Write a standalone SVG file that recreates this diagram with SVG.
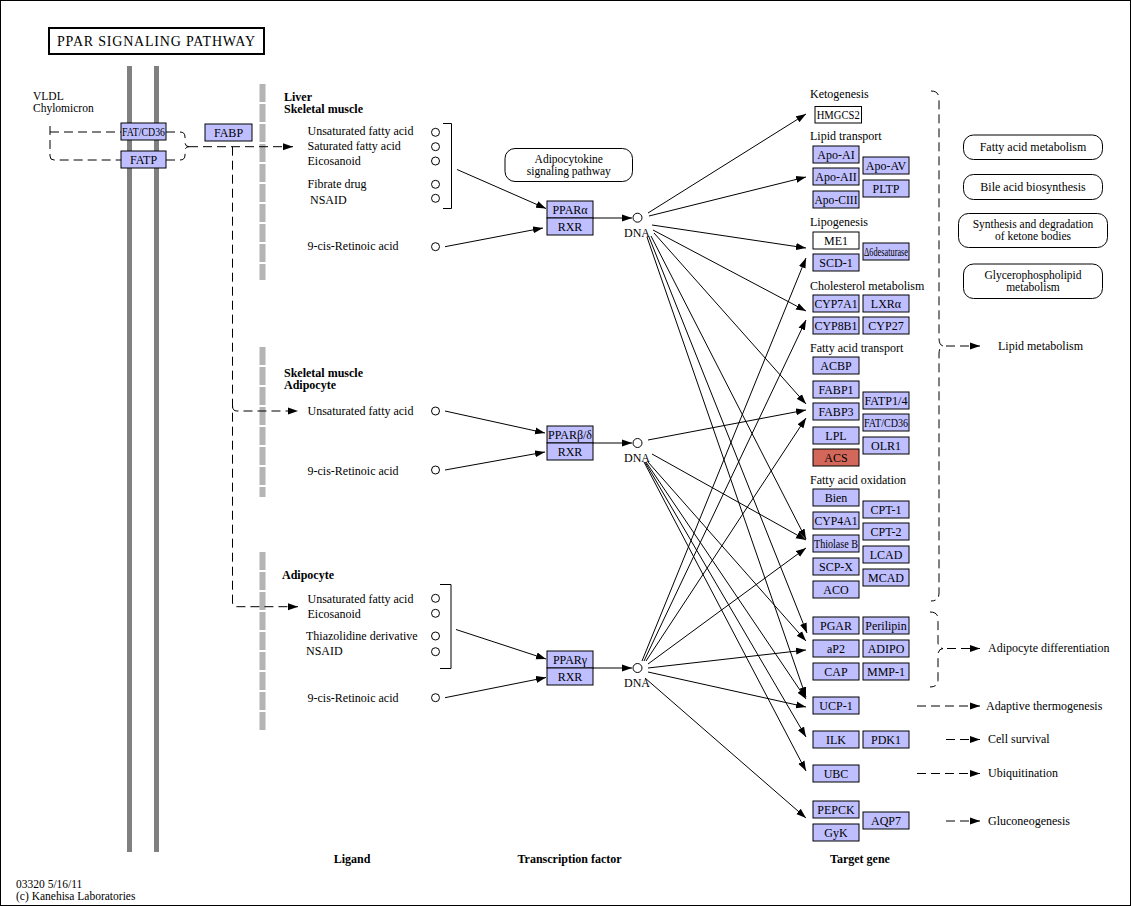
<svg xmlns="http://www.w3.org/2000/svg" width="1131" height="906" viewBox="0 0 1131 906">
<style>
text{font-family:"Liberation Serif","Times New Roman",serif;font-size:12px;fill:#000}
.b{font-weight:bold}
.c{text-anchor:middle}
.s{font-size:11.5px}
.g{fill:#bfbfff;stroke:#000;stroke-width:1}
.w{fill:#fff;stroke:#000;stroke-width:1}
.r{fill:#d3685a;stroke:#000;stroke-width:1}
.e{fill:none;stroke:#000;stroke-width:1}
.d{fill:none;stroke:#000;stroke-width:1;stroke-dasharray:9,5}
.cp{fill:#fff;stroke:#000;stroke-width:1}
.mem{stroke:#808080;stroke-width:5}
.dm{stroke:#b4b4b4;stroke-width:6;stroke-dasharray:18,2}
</style>
<defs>
<marker id="ah" markerUnits="userSpaceOnUse" markerWidth="10" markerHeight="8" refX="10" refY="4" orient="auto"><path d="M0,0.5 L10,4 L0,7.5 z" fill="#000"/></marker>
</defs>
<rect x="0.5" y="0.5" width="1130" height="905" fill="#fff" stroke="#000"/>

<g id="title"><rect x="49" y="28" width="215" height="26" fill="#fff" stroke="#000" stroke-width="2"/><text x="57" y="46" style="font-size:14px" textLength="198">PPAR SIGNALING PATHWAY</text></g>

<g id="membranes">
<line class="mem" x1="129.5" y1="66" x2="129.5" y2="852"/>
<line class="mem" x1="156.5" y1="66" x2="156.5" y2="852"/>
<line class="dm" x1="262.5" y1="84" x2="262.5" y2="280"/>
<line class="dm" x1="262.5" y1="347" x2="262.5" y2="497"/>
<line class="dm" x1="262.5" y1="552" x2="262.5" y2="730"/>
</g>

<g id="vldl"><text class="s" x="33" y="100">VLDL</text><text class="s" x="33" y="112">Chylomicron</text></g>

<g id="connectors">
<path class="d" d="M50,126 V156 Q50,160 54,160 H121"/>
<path class="d" d="M50,132 H121"/>
<path class="d" d="M166,132 H180 Q185,132 185,137 V142 Q185,146.7 189,146.7"/>
<path class="d" d="M166,160 H180 Q185,160 185,155 V151 Q185,146.7 189,146.7"/>
<path class="d" d="M189,146.7 H293" marker-end="url(#ah)"/>
<path class="d" d="M232.5,146.7 V602 Q232.5,606.7 237,606.7 H298" marker-end="url(#ah)"/>
<path class="d" d="M232.5,406 Q232.5,411 237,411 H298" marker-end="url(#ah)"/>

<path class="e" d="M457,169.5 L546,208.5" marker-end="url(#ah)"/>
<path class="e" d="M445,246.7 L543,228" marker-end="url(#ah)"/>
<path class="e" d="M445,411 L545,433" marker-end="url(#ah)"/>
<path class="e" d="M445,470 L545,452" marker-end="url(#ah)"/>
<path class="e" d="M456,629.5 L546,659" marker-end="url(#ah)"/>
<path class="e" d="M445,697.7 L546,677.5" marker-end="url(#ah)"/>
<path class="e" d="M593,218 L632,218" marker-end="url(#ah)"/>
<path class="e" d="M593,443 L632,443" marker-end="url(#ah)"/>
<path class="e" d="M593,668 L632,668" marker-end="url(#ah)"/>

<path class="e" d="M648,213 L806,114" marker-end="url(#ah)"/>
<path class="e" d="M649,216 L806,177" marker-end="url(#ah)"/>
<path class="e" d="M652,225 L806,248" marker-end="url(#ah)"/>
<path class="e" d="M653,230 L806,311" marker-end="url(#ah)"/>
<path class="e" d="M654,233 L806,404" marker-end="url(#ah)"/>
<path class="e" d="M651,236 L806,539" marker-end="url(#ah)"/>
<path class="e" d="M649,237 L807,633" marker-end="url(#ah)"/>
<path class="e" d="M647,237 L806,697" marker-end="url(#ah)"/>

<path class="e" d="M648,440 L806,410" marker-end="url(#ah)"/>
<path class="e" d="M652,454 L806,540" marker-end="url(#ah)"/>
<path class="e" d="M648,462 L806,641" marker-end="url(#ah)"/>
<path class="e" d="M646,462 L806,699" marker-end="url(#ah)"/>
<path class="e" d="M645,462 L806,737" marker-end="url(#ah)"/>
<path class="e" d="M644,462 L806,771" marker-end="url(#ah)"/>

<path class="e" d="M642,661 L806,258" marker-end="url(#ah)"/>
<path class="e" d="M644,661 L806,320" marker-end="url(#ah)"/>
<path class="e" d="M646,661 L806,418" marker-end="url(#ah)"/>
<path class="e" d="M648,664 L806,548" marker-end="url(#ah)"/>
<path class="e" d="M648,668 L806,650" marker-end="url(#ah)"/>
<path class="e" d="M648,672 L806,707" marker-end="url(#ah)"/>
<path class="e" d="M645,678 L806,818" marker-end="url(#ah)"/>

<path class="d" d="M931,91 Q939,91 939,99 V338 Q939,345 943,346 Q939,347 939,354 V593 Q939,601 931,601"/>
<path class="d" d="M930,612 Q938,612 938,619 V642 Q938,648 943,648.5 Q938,649 938,655 V680 Q938,687 930,687"/>
<path class="d" d="M946,346 H980" marker-end="url(#ah)"/>
<path class="d" d="M947,648.5 H980" marker-end="url(#ah)"/>
<path class="d" d="M917,706 H980" marker-end="url(#ah)"/>
<path class="d" d="M946,739.5 H980" marker-end="url(#ah)"/>
<path class="d" d="M917,773.5 H980" marker-end="url(#ah)"/>
<path class="d" d="M946,821 H980" marker-end="url(#ah)"/>
</g>

<g id="n_fatcd36_l"><rect class="g" x="121" y="123" width="45" height="17"/><text class="c" x="143.5" y="136" textLength="43" lengthAdjust="spacingAndGlyphs">FAT/CD36</text></g>
<g id="n_fatp_l"><rect class="g" x="121" y="151" width="45" height="17"/><text class="c" x="143.5" y="164">FATP</text></g>
<g id="n_fabp_l"><rect class="g" x="205" y="124" width="47" height="17"/><text class="c" x="228.5" y="137">FABP</text></g>

<g id="sec1">
<text class="b" x="284" y="100.5">Liver</text><text class="b" x="284" y="113">Skeletal muscle</text>
<text x="307.5" y="135">Unsaturated fatty acid</text>
<text x="307.5" y="150">Saturated fatty acid</text>
<text x="307.5" y="164.5">Eicosanoid</text>
<text x="307.5" y="187.5">Fibrate drug</text>
<text x="310" y="203.5">NSAID</text>
<text x="307.5" y="250">9-cis-Retinoic acid</text>
<circle class="cp" cx="435.5" cy="132.3" r="4"/>
<circle class="cp" cx="435.5" cy="146.7" r="4"/>
<circle class="cp" cx="435.5" cy="161" r="4"/>
<circle class="cp" cx="435.5" cy="184.3" r="4"/>
<circle class="cp" cx="435.5" cy="198.3" r="4"/>
<circle class="cp" cx="435.5" cy="246.7" r="4"/>
<path class="e" d="M443,123.5 H451.5 V208.5 H443"/>
</g>

<g id="sec2">
<text class="b" x="284" y="376.5">Skeletal muscle</text><text class="b" x="284" y="389">Adipocyte</text>
<text x="307.5" y="414.5">Unsaturated fatty acid</text>
<text x="307.5" y="474.5">9-cis-Retinoic acid</text>
<circle class="cp" cx="435.5" cy="411" r="4"/>
<circle class="cp" cx="435.5" cy="470" r="4"/>
</g>

<g id="sec3">
<text class="b" x="282" y="578.5">Adipocyte</text>
<text x="307.5" y="602.5">Unsaturated fatty acid</text>
<text x="307.5" y="617.5">Eicosanoid</text>
<text x="306" y="639.5">Thiazolidine derivative</text>
<text x="306" y="655">NSAID</text>
<text x="307.5" y="702">9-cis-Retinoic acid</text>
<circle class="cp" cx="435.5" cy="598.3" r="4"/>
<circle class="cp" cx="435.5" cy="613.3" r="4"/>
<circle class="cp" cx="435.5" cy="636" r="4"/>
<circle class="cp" cx="435.5" cy="651.7" r="4"/>
<circle class="cp" cx="435.5" cy="697.7" r="4"/>
<path class="e" d="M440,584.5 H451 V668.5 H440"/>
</g>

<g id="adipocytokine"><rect class="w" x="505" y="148.5" width="127.5" height="33" rx="10"/><text class="c s" x="568.8" y="162.5">Adipocytokine</text><text class="c s" x="568.8" y="174.5">signaling pathway</text></g>

<g id="n_ppara"><rect class="g" x="547" y="201" width="46" height="17"/><text class="c" x="570" y="214">PPARα</text></g>
<g id="n_rxr1"><rect class="g" x="547" y="218" width="46" height="17"/><text class="c" x="570" y="231">RXR</text></g>
<g id="n_ppard"><rect class="g" x="547" y="426" width="46" height="17"/><text class="c" x="570" y="439" textLength="44" lengthAdjust="spacingAndGlyphs">PPARβ/δ</text></g>
<g id="n_rxr2"><rect class="g" x="547" y="443" width="46" height="17"/><text class="c" x="570" y="456">RXR</text></g>
<g id="n_pparg"><rect class="g" x="547" y="651" width="46" height="17"/><text class="c" x="570" y="664">PPARγ</text></g>
<g id="n_rxr3"><rect class="g" x="547" y="668" width="46" height="17"/><text class="c" x="570" y="681">RXR</text></g>

<g id="dna1"><circle class="cp" cx="637.5" cy="217.7" r="4.5"/><text class="c" x="637" y="237">DNA</text></g>
<g id="dna2"><circle class="cp" cx="637.5" cy="443" r="4.5"/><text class="c" x="637" y="462">DNA</text></g>
<g id="dna3"><circle class="cp" cx="637.5" cy="668" r="4.5"/><text class="c" x="637" y="687">DNA</text></g>

<g id="target_labels">
<text x="810" y="97.5">Ketogenesis</text>
<text x="810" y="140">Lipid transport</text>
<text x="810" y="226">Lipogenesis</text>
<text x="810" y="289.5">Cholesterol metabolism</text>
<text x="810" y="352">Fatty acid transport</text>
<text x="810" y="484">Fatty acid oxidation</text>
</g>

<g id="n_hmgcs2"><rect class="w" x="815" y="106.5" width="46.5" height="16.5"/><text class="c" x="838.2" y="119" textLength="43" lengthAdjust="spacingAndGlyphs">HMGCS2</text></g>
<g id="n_apoai"><rect class="g" x="813" y="146" width="46" height="17"/><text class="c" x="836" y="159">Apo-AI</text></g>
<g id="n_apoaii"><rect class="g" x="813" y="168" width="46" height="17"/><text class="c" x="836" y="181">Apo-AII</text></g>
<g id="n_apociii"><rect class="g" x="813" y="191" width="46" height="17"/><text class="c" x="836" y="204" textLength="43" lengthAdjust="spacingAndGlyphs">Apo-CIII</text></g>
<g id="n_apoav"><rect class="g" x="863" y="157" width="46" height="17"/><text class="c" x="886" y="170">Apo-AV</text></g>
<g id="n_pltp"><rect class="g" x="863" y="180" width="46" height="17"/><text class="c" x="886" y="193">PLTP</text></g>
<g id="n_me1"><rect class="w" x="813" y="232" width="46" height="17"/><text class="c" x="836" y="245">ME1</text></g>
<g id="n_scd1"><rect class="g" x="813" y="254" width="46" height="17"/><text class="c" x="836" y="267">SCD-1</text></g>
<g id="n_d6d"><rect class="g" x="863" y="243" width="46" height="17"/><text class="c" x="886" y="256" textLength="44" lengthAdjust="spacingAndGlyphs">Δ6desaturase</text></g>
<g id="n_cyp7a1"><rect class="g" x="813" y="295" width="46" height="17"/><text class="c" x="836" y="308" textLength="43" lengthAdjust="spacingAndGlyphs">CYP7A1</text></g>
<g id="n_lxra"><rect class="g" x="863" y="295" width="46" height="17"/><text class="c" x="886" y="308">LXRα</text></g>
<g id="n_cyp8b1"><rect class="g" x="813" y="317" width="46" height="17"/><text class="c" x="836" y="330" textLength="43" lengthAdjust="spacingAndGlyphs">CYP8B1</text></g>
<g id="n_cyp27"><rect class="g" x="863" y="317" width="46" height="17"/><text class="c" x="886" y="330">CYP27</text></g>

<g id="n_acbp"><rect class="g" x="813" y="357" width="46" height="17"/><text class="c" x="836" y="370">ACBP</text></g>
<g id="n_fabp1"><rect class="g" x="813" y="381" width="46" height="17"/><text class="c" x="836" y="394">FABP1</text></g>
<g id="n_fabp3"><rect class="g" x="813" y="403" width="46" height="17"/><text class="c" x="836" y="416">FABP3</text></g>
<g id="n_lpl"><rect class="g" x="813" y="427" width="46" height="17"/><text class="c" x="836" y="440">LPL</text></g>
<g id="n_acs"><rect class="r" x="813" y="449" width="46" height="17"/><text class="c" x="836" y="462">ACS</text></g>
<g id="n_fatp14"><rect class="g" x="863" y="392" width="46" height="17"/><text class="c" x="886" y="405" textLength="43" lengthAdjust="spacingAndGlyphs">FATP1/4</text></g>
<g id="n_fatcd36_r"><rect class="g" x="863" y="414" width="46" height="17"/><text class="c" x="886" y="427" textLength="44" lengthAdjust="spacingAndGlyphs">FAT/CD36</text></g>
<g id="n_olr1"><rect class="g" x="863" y="437" width="46" height="17"/><text class="c" x="886" y="450">OLR1</text></g>

<g id="n_bien"><rect class="g" x="813" y="489" width="46" height="17"/><text class="c" x="836" y="502">Bien</text></g>
<g id="n_cyp4a1"><rect class="g" x="813" y="512" width="46" height="17"/><text class="c" x="836" y="525" textLength="43" lengthAdjust="spacingAndGlyphs">CYP4A1</text></g>
<g id="n_thiolase"><rect class="g" x="813" y="535" width="46" height="17"/><text class="c" x="836" y="548" textLength="44" lengthAdjust="spacingAndGlyphs">Thiolase B</text></g>
<g id="n_scpx"><rect class="g" x="813" y="558" width="46" height="17"/><text class="c" x="836" y="571">SCP-X</text></g>
<g id="n_aco"><rect class="g" x="813" y="581" width="46" height="17"/><text class="c" x="836" y="594">ACO</text></g>
<g id="n_cpt1"><rect class="g" x="863" y="501" width="46" height="17"/><text class="c" x="886" y="514">CPT-1</text></g>
<g id="n_cpt2"><rect class="g" x="863" y="523" width="46" height="17"/><text class="c" x="886" y="536">CPT-2</text></g>
<g id="n_lcad"><rect class="g" x="863" y="546" width="46" height="17"/><text class="c" x="886" y="559">LCAD</text></g>
<g id="n_mcad"><rect class="g" x="863" y="569" width="46" height="17"/><text class="c" x="886" y="582">MCAD</text></g>

<g id="n_pgar"><rect class="g" x="813" y="617" width="46" height="17"/><text class="c" x="836" y="630">PGAR</text></g>
<g id="n_perilipin"><rect class="g" x="863" y="617" width="46" height="17"/><text class="c" x="886" y="630">Perilipin</text></g>
<g id="n_ap2"><rect class="g" x="813" y="640" width="46" height="17"/><text class="c" x="836" y="653">aP2</text></g>
<g id="n_adipo"><rect class="g" x="863" y="640" width="46" height="17"/><text class="c" x="886" y="653">ADIPO</text></g>
<g id="n_cap"><rect class="g" x="813" y="663" width="46" height="17"/><text class="c" x="836" y="676">CAP</text></g>
<g id="n_mmp1"><rect class="g" x="863" y="663" width="46" height="17"/><text class="c" x="886" y="676">MMP-1</text></g>
<g id="n_ucp1"><rect class="g" x="813" y="697" width="46" height="17"/><text class="c" x="836" y="710">UCP-1</text></g>
<g id="n_ilk"><rect class="g" x="813" y="731" width="46" height="17"/><text class="c" x="836" y="744">ILK</text></g>
<g id="n_pdk1"><rect class="g" x="863" y="731" width="46" height="17"/><text class="c" x="886" y="744">PDK1</text></g>
<g id="n_ubc"><rect class="g" x="813" y="765" width="46" height="17"/><text class="c" x="836" y="778">UBC</text></g>
<g id="n_pepck"><rect class="g" x="813" y="801" width="46" height="17"/><text class="c" x="836" y="814">PEPCK</text></g>
<g id="n_gyk"><rect class="g" x="813" y="824" width="46" height="17"/><text class="c" x="836" y="837">GyK</text></g>
<g id="n_aqp7"><rect class="g" x="863" y="812" width="46" height="17"/><text class="c" x="886" y="825">AQP7</text></g>

<g id="p_fam"><rect class="w" x="963.5" y="135" width="139" height="24.5" rx="10"/><text class="c" x="1033" y="151">Fatty acid metabolism</text></g>
<g id="p_bile"><rect class="w" x="963.5" y="174.5" width="139" height="25" rx="10"/><text class="c" x="1033" y="191">Bile acid biosynthesis</text></g>
<g id="p_ketone"><rect class="w" x="958.5" y="213.5" width="149" height="34" rx="10"/><text class="c s" x="1033" y="228">Synthesis and degradation</text><text class="c s" x="1033" y="240">of ketone bodies</text></g>
<g id="p_glycero"><rect class="w" x="963.5" y="264" width="139" height="34.5" rx="10"/><text class="c s" x="1033" y="279">Glycerophospholipid</text><text class="c s" x="1033" y="291">metabolism</text></g>

<g id="outcomes">
<text x="998" y="349.5">Lipid metabolism</text>
<text x="988" y="651.5">Adipocyte differentiation</text>
<text x="986" y="709.5">Adaptive thermogenesis</text>
<text x="988" y="743">Cell survival</text>
<text x="988" y="777">Ubiquitination</text>
<text x="988" y="824.5">Gluconeogenesis</text>
</g>

<g id="footer">
<text class="b c" x="352" y="863">Ligand</text>
<text class="b c" x="569.5" y="863">Transcription factor</text>
<text class="b c" x="860" y="863">Target gene</text>
<text class="s" x="16" y="887.5">03320 5/16/11</text>
<text class="s" x="16" y="899.5">(c) Kanehisa Laboratories</text>
</g>
</svg>
